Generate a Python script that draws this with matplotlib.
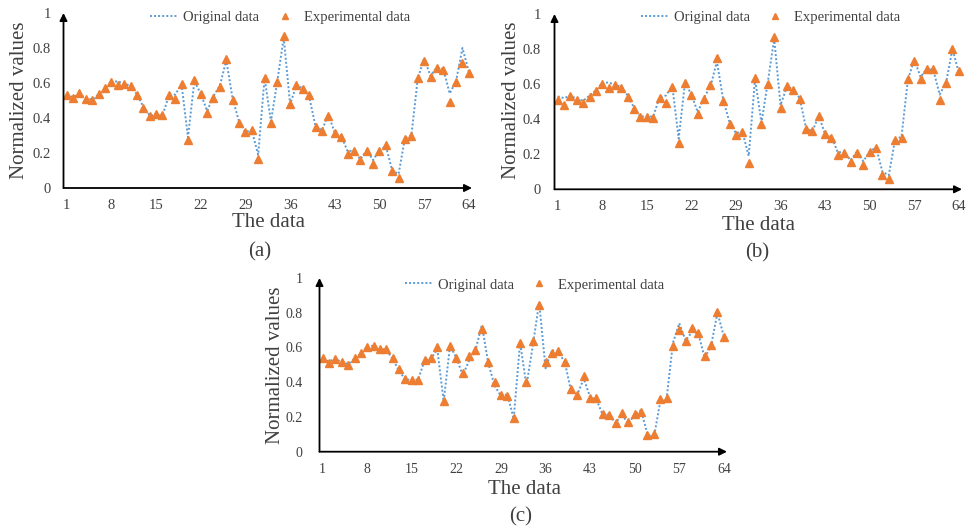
import matplotlib
matplotlib.use("Agg")
import matplotlib.pyplot as plt
from matplotlib.lines import Line2D

plt.rcParams['font.family'] = ['Liberation Serif', 'DejaVu Serif']

x_ticks = [1, 8, 15, 22, 29, 36, 43, 50, 57, 64]
y_ticks = [0, 0.2, 0.4, 0.6, 0.8, 1]
y_tick_labels = ["0", "0.2", "0.4", "0.6", "0.8", "1"]
idx = list(range(1, 65))

orig = [0.53, 0.52, 0.535, 0.515, 0.505, 0.535, 0.565, 0.605, 0.61, 0.595,
        0.585, 0.535, 0.465, 0.415, 0.415, 0.415, 0.525, 0.535, 0.59, 0.29,
        0.61, 0.54, 0.44, 0.525, 0.585, 0.73, 0.51, 0.38, 0.32, 0.33,
        0.19, 0.63, 0.38, 0.61, 0.86, 0.48, 0.585, 0.57, 0.52, 0.35,
        0.33, 0.42, 0.315, 0.3, 0.21, 0.215, 0.165, 0.215, 0.16, 0.215,
        0.24, 0.1, 0.08, 0.285, 0.3, 0.625, 0.74, 0.64, 0.69, 0.68,
        0.54, 0.61, 0.8, 0.665]

exp_a = [0.53, 0.516, 0.545, 0.51, 0.503, 0.539, 0.57, 0.607, 0.589, 0.596,
         0.585, 0.53, 0.459, 0.411, 0.421, 0.417, 0.53, 0.509, 0.594, 0.274,
         0.617, 0.537, 0.43, 0.516, 0.579, 0.735, 0.503, 0.37, 0.32, 0.331,
         0.166, 0.63, 0.37, 0.607, 0.87, 0.478, 0.589, 0.566, 0.53, 0.347,
         0.328, 0.411, 0.316, 0.29, 0.194, 0.213, 0.16, 0.213, 0.137, 0.213,
         0.246, 0.099, 0.055, 0.278, 0.299, 0.627, 0.726, 0.632, 0.684, 0.674,
         0.49, 0.607, 0.716, 0.655]

exp_b = [0.511, 0.479, 0.532, 0.507, 0.494, 0.526, 0.558, 0.602, 0.58, 0.593,
         0.58, 0.526, 0.456, 0.412, 0.412, 0.408, 0.52, 0.494, 0.583, 0.266,
         0.606, 0.54, 0.431, 0.513, 0.593, 0.75, 0.501, 0.374, 0.312, 0.326,
         0.15, 0.634, 0.37, 0.598, 0.868, 0.466, 0.589, 0.564, 0.513, 0.342,
         0.332, 0.418, 0.313, 0.292, 0.194, 0.209, 0.156, 0.209, 0.137, 0.212,
         0.238, 0.084, 0.057, 0.279, 0.292, 0.631, 0.731, 0.631, 0.688, 0.684,
         0.507, 0.608, 0.8, 0.674]

exp_c = [0.539, 0.512, 0.533, 0.516, 0.501, 0.539, 0.567, 0.602, 0.61, 0.589,
         0.59, 0.541, 0.474, 0.421, 0.415, 0.411, 0.526, 0.541, 0.602, 0.293,
         0.611, 0.541, 0.453, 0.549, 0.583, 0.705, 0.516, 0.4, 0.326, 0.32,
         0.192, 0.625, 0.402, 0.636, 0.846, 0.516, 0.567, 0.579, 0.516, 0.36,
         0.326, 0.434, 0.307, 0.307, 0.217, 0.211, 0.164, 0.225, 0.17, 0.217,
         0.23, 0.097, 0.101, 0.301, 0.307, 0.606, 0.703, 0.636, 0.712, 0.682,
         0.55, 0.617, 0.807, 0.659]

series_names = ["Original data", "Experimental data"]
panel_labels = ["(a)", "(b)", "(c)"]
x_label = "The data"
y_label = "Normalized values"

W, H = 966, 531
BLUE = "#5B9BD5"
ORANGE = "#ED7D31"
TXT = "#404040"

fig = plt.figure(figsize=(W / 100, H / 100), dpi=100)

# panel layout in pixels: (left, right, top, bottom)
layouts = [
    dict(box=(63.5, 472.0, 13.0, 188.0), leg=(0.53, 0.975), tick_fs=10.5, ypad=9,
         ylab=(20, 100), xlab=(268, 223), plab=(260, 252)),
    dict(box=(554.5, 962.0, 14.0, 189.3), leg=(0.53, 0.98), tick_fs=10.5, ypad=10,
         ylab=(511, 100), xlab=(759, 226), plab=(757, 253)),
    dict(box=(319.5, 727.0, 278.0, 451.7), leg=(0.528, 0.96), tick_fs=10, ypad=12,
         ylab=(275, 365), xlab=(525, 489), plab=(521, 517)),
]
exps = [exp_a, exp_b, exp_c]

for lay, exp, plab in zip(layouts, exps, panel_labels):
    l, r, t, b = lay["box"]
    ax = fig.add_axes([l / W, 1 - b / H, (r - l) / W, (b - t) / H])
    ax.plot(idx, orig, color=BLUE, lw=1.4, ls=(0, (1, 1.1)), zorder=2)
    ax.plot(idx, exp, ls="none", marker="^", ms=6, color=ORANGE,
            markeredgecolor=ORANGE, zorder=3, clip_on=False)
    ax.set_xlim(0.5, 64.5)
    ax.set_ylim(0, 1)
    for s in ax.spines.values():
        s.set_visible(False)
    ax.set_xticks(x_ticks)
    ax.set_xticklabels([str(v) for v in x_ticks])
    ax.set_yticks(y_ticks)
    ax.set_yticklabels(y_tick_labels)
    ax.tick_params(axis="both", length=0, labelsize=lay["tick_fs"], colors=TXT)
    ax.tick_params(axis="x", pad=8)
    ax.tick_params(axis="y", pad=lay["ypad"])
    ax.annotate("", xy=(0, 1.0), xytext=(0, 0), xycoords="axes fraction",
                arrowprops=dict(arrowstyle="-|>", color="black", lw=1.3,
                                mutation_scale=11, shrinkA=0, shrinkB=0))
    ax.annotate("", xy=(1.0, 0), xytext=(0, 0), xycoords="axes fraction",
                arrowprops=dict(arrowstyle="-|>", color="black", lw=1.3,
                                mutation_scale=11, shrinkA=0, shrinkB=0))
    handles = [Line2D([], [], color=BLUE, lw=1.4, ls=(0, (1, 1.1))),
               Line2D([], [], ls="none", marker="^", ms=5, color=ORANGE)]
    leg = ax.legend(handles, series_names, loc="center", bbox_to_anchor=lay["leg"],
                    ncol=2, frameon=False, fontsize=10.5, handlelength=1.9,
                    handletextpad=0.35, columnspacing=0.8, borderpad=0)
    for txt in leg.get_texts():
        txt.set_color(TXT)
    yx, yy = lay["ylab"]
    fig.text(yx / W, 1 - yy / H, y_label, rotation=90, ha="center", va="center",
             fontsize=15, color=TXT)
    xx, xy = lay["xlab"]
    fig.text(xx / W, 1 - xy / H, x_label, ha="center", va="center",
             fontsize=15, color=TXT)
    px, py = lay["plab"]
    fig.text(px / W, 1 - py / H, plab, ha="center", va="center",
             fontsize=15, color=TXT)

fig.savefig("out.png", dpi=100)
